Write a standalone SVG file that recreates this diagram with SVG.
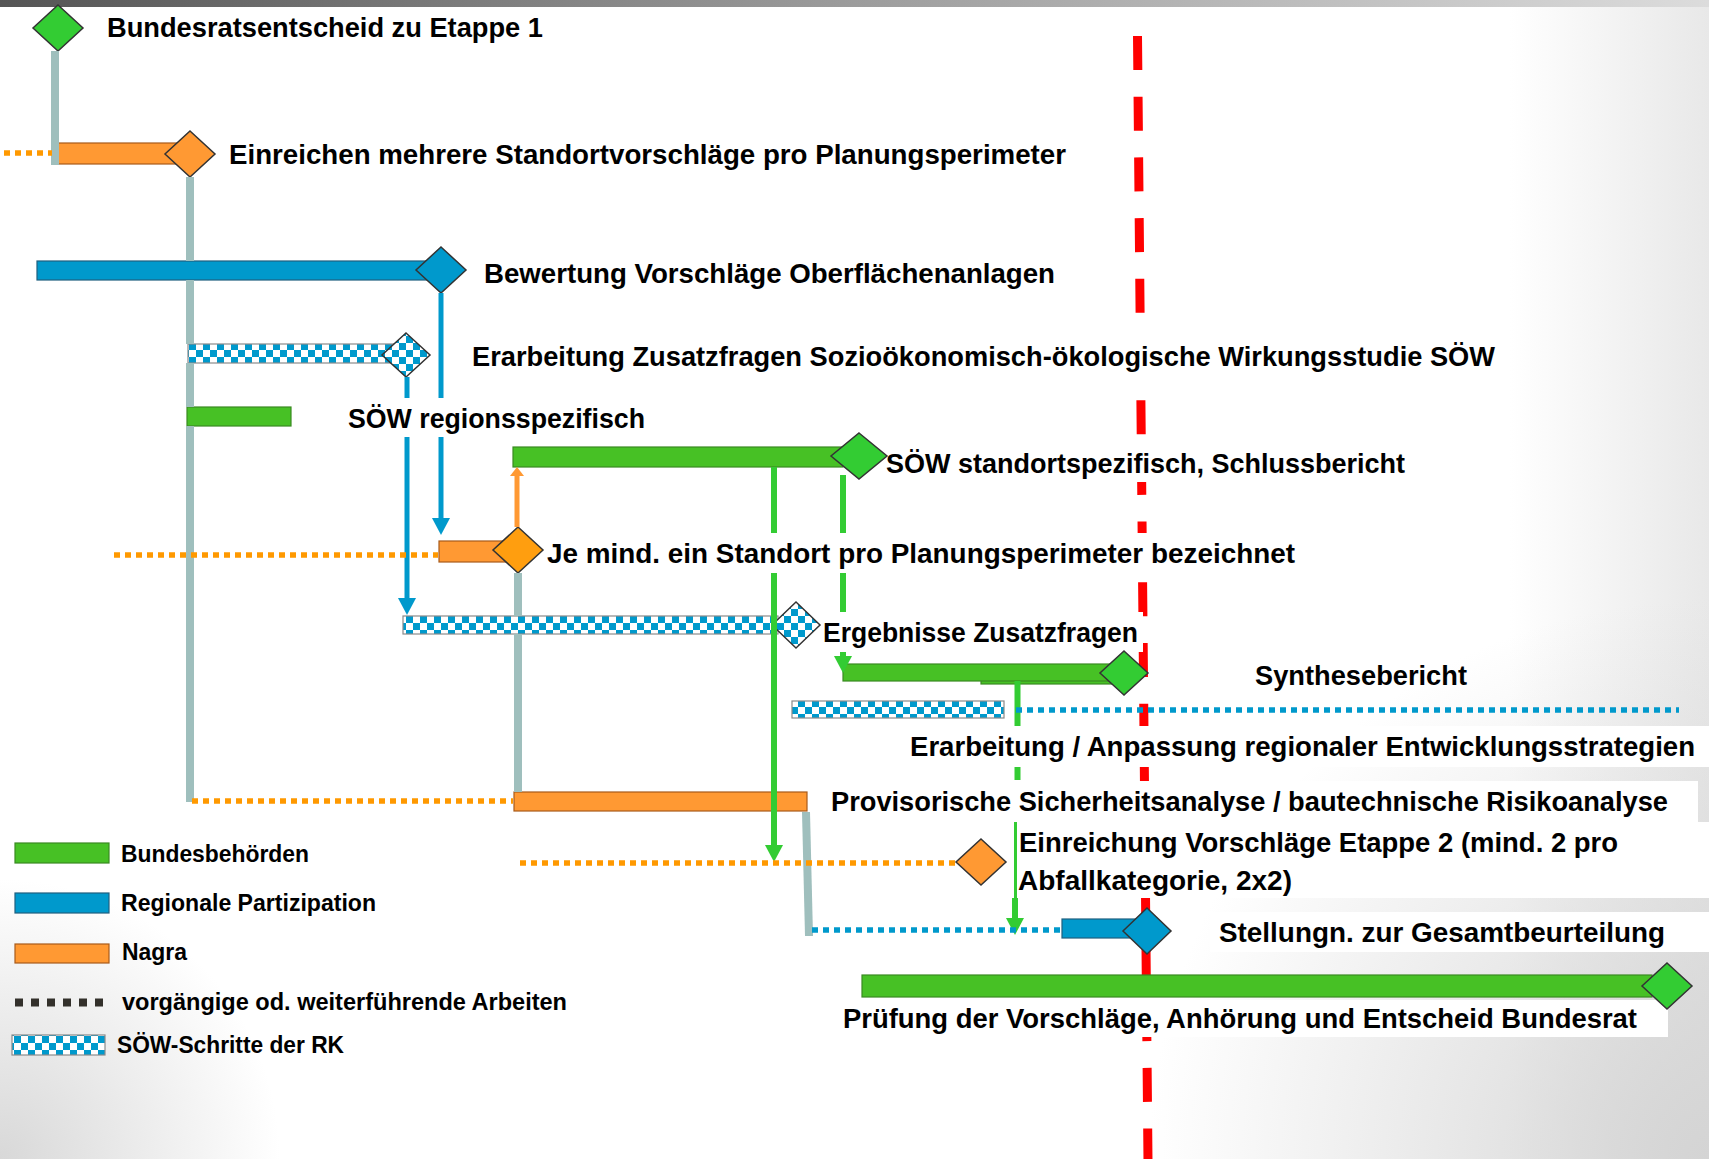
<svg xmlns="http://www.w3.org/2000/svg" width="1709" height="1159" viewBox="0 0 1709 1159">
<style>
text{font-family:"Liberation Sans",Arial,sans-serif;font-weight:bold;fill:#000}
.t{font-size:27px}
.lg{font-size:23px}
.lb{fill:#fff}
.bg{fill:#47c125;stroke:#3a8a22;stroke-width:1.2}
.bb{fill:#0099cc;stroke:#1f5f7f;stroke-width:1.2}
.bo{fill:#ff9933;stroke:#a85a1a;stroke-width:1.2}
.bc{fill:url(#chk);stroke:#8a8a8a;stroke-width:1.2}
.dg{fill:#33cc33;stroke:#333;stroke-width:1.5}
.db{fill:#0099cc;stroke:#333;stroke-width:1.5}
.do{fill:#ff9933;stroke:#333;stroke-width:1.5}
.dc{fill:url(#chk);stroke:#333;stroke-width:1.5}
.gl{stroke:#9fbfbd;stroke-width:8;fill:none}
.bl{stroke:#0099cc;stroke-width:5;fill:none}
.grl{stroke:#33cc33;stroke-width:6;fill:none}
.ol{stroke:#ff9933;stroke-width:5;fill:none}
.od{stroke:#ff9900;stroke-width:5.5;stroke-dasharray:6 5;fill:none}
.bd{stroke:#0099cc;stroke-width:5.5;stroke-dasharray:6 5;fill:none}
</style>
<defs>
<pattern id="chk" width="14" height="14" patternUnits="userSpaceOnUse">
<rect width="14" height="14" fill="#fff"/>
<rect width="7" height="7" fill="#0099cc"/>
<rect x="7" y="7" width="7" height="7" fill="#0099cc"/>
</pattern>
<linearGradient id="top" x1="0" y1="0" x2="1" y2="0">
<stop offset="0" stop-color="#555"/>
<stop offset="0.5" stop-color="#9c9c9c"/>
<stop offset="1" stop-color="#dcdcdc"/>
</linearGradient>
<linearGradient id="rf" gradientUnits="userSpaceOnUse" x1="1510" y1="0" x2="1709" y2="0">
<stop offset="0" stop-color="#e4e4e4" stop-opacity="0"/>
<stop offset="1" stop-color="#e4e4e4" stop-opacity="0.85"/>
</linearGradient>
<radialGradient id="brc" gradientUnits="userSpaceOnUse" cx="1709" cy="1159" r="560">
<stop offset="0" stop-color="#d4d4d4" stop-opacity="1"/>
<stop offset="1" stop-color="#d4d4d4" stop-opacity="0"/>
</radialGradient>
<radialGradient id="blc" gradientUnits="userSpaceOnUse" cx="0" cy="1159" r="280">
<stop offset="0" stop-color="#d8d8d8" stop-opacity="1"/>
<stop offset="1" stop-color="#d8d8d8" stop-opacity="0"/>
</radialGradient>
<marker id="aB" viewBox="0 0 17 18" refX="0" refY="9" markerWidth="17" markerHeight="18" markerUnits="userSpaceOnUse" orient="auto"><path d="M0,0 L17,9 L0,18 z" fill="#0099cc"/></marker>
<marker id="aG" viewBox="0 0 17 18" refX="0" refY="9" markerWidth="17" markerHeight="18" markerUnits="userSpaceOnUse" orient="auto"><path d="M0,0 L17,9 L0,18 z" fill="#33cc33"/></marker>
<marker id="aO" viewBox="0 0 9 14" refX="0" refY="7" markerWidth="9" markerHeight="14" markerUnits="userSpaceOnUse" orient="auto"><path d="M0,0 L9,7 L0,14 z" fill="#ff9933"/></marker>
</defs>

<g id="background">
<rect width="1709" height="1159" fill="#fff"/>
<rect width="1709" height="1159" fill="url(#rf)"/>
<rect width="1709" height="1159" fill="url(#brc)"/>
<rect width="1709" height="1159" fill="url(#blc)"/>
<rect width="1709" height="7" fill="url(#top)"/>
</g>

<g id="decision-line">
<line x1="1137.5" y1="36" x2="1148" y2="1162" stroke="#ff0000" stroke-width="9" stroke-dasharray="34 26.7"/>
</g>

<g id="legend">
<rect class="bg" x="15" y="843" width="94" height="20"/>
<text class="lg" x="121" y="862" textLength="188" lengthAdjust="spacingAndGlyphs">Bundesbehörden</text>
<rect class="bb" x="15" y="893" width="94" height="20"/>
<text class="lg" x="121" y="911" textLength="255" lengthAdjust="spacingAndGlyphs">Regionale Partizipation</text>
<rect class="bo" x="15" y="944" width="94" height="19"/>
<text class="lg" x="122" y="960" textLength="65" lengthAdjust="spacingAndGlyphs">Nagra</text>
<line x1="15" y1="1002.5" x2="103" y2="1002.5" stroke="#33302b" stroke-width="8" stroke-dasharray="8 8"/>
<text class="lg" x="122" y="1010" textLength="445" lengthAdjust="spacingAndGlyphs">vorgängige od. weiterführende Arbeiten</text>
<rect class="bc" x="12" y="1035" width="93" height="20"/>
<text class="lg" x="117" y="1053" textLength="227" lengthAdjust="spacingAndGlyphs">SÖW-Schritte der RK</text>
</g>

<g id="n-bundesratsentscheid-1">
<polygon class="dg" points="58,5 83,28 58,51 33,28"/>
<text class="t" x="107" y="37" textLength="436" lengthAdjust="spacingAndGlyphs">Bundesratsentscheid zu Etappe 1</text>
</g>

<g id="n-einreichen-standortvorschlaege">
<rect class="bo" x="57" y="143" width="125" height="21"/>
<polygon class="do" points="190,131 215,154 190,177 165,154"/>
<text class="t" x="229" y="164" textLength="837" lengthAdjust="spacingAndGlyphs">Einreichen mehrere Standortvorschläge pro Planungsperimeter</text>
</g>

<g id="n-bewertung-oberflaechenanlagen">
<rect class="bb" x="37" y="261" width="393" height="19"/>
<polygon class="db" points="441,247 466,270 441,293 416,270"/>
<text class="t" x="484" y="283" textLength="571" lengthAdjust="spacingAndGlyphs">Bewertung Vorschläge Oberflächenanlagen</text>
</g>

<g id="n-erarbeitung-zusatzfragen">
<rect class="bc" x="188" y="344" width="206" height="19"/>
<polygon class="dc" points="406,333 430,355 406,377 382,355"/>
<rect class="lb" x="466" y="336" width="1032" height="41"/>
<text class="t" x="472" y="366" textLength="1023" lengthAdjust="spacingAndGlyphs">Erarbeitung Zusatzfragen Sozioökonomisch-ökologische Wirkungsstudie SÖW</text>
</g>

<g id="n-soew-regionsspezifisch">
<rect class="bg" x="187" y="407" width="104" height="19"/>
<rect class="lb" x="340" y="398" width="312" height="39"/>
<text class="t" x="348" y="428" textLength="297" lengthAdjust="spacingAndGlyphs">SÖW regionsspezifisch</text>
</g>

<g id="n-soew-standortspezifisch">
<rect class="bg" x="513" y="447" width="330" height="20"/>
<rect class="lb" x="882" y="440" width="530" height="42"/>
<polygon class="dg" points="859,433 887,456 859,479 831,456"/>
<text class="t" x="886" y="473" textLength="519" lengthAdjust="spacingAndGlyphs">SÖW standortspezifisch, Schlussbericht</text>
</g>

<g id="n-standort-bezeichnet">
<rect class="bo" x="439" y="541" width="72" height="21"/>
<polygon class="do" points="518,527 543,550 518,573 493,550" style="fill:#ff9e0f"/>
<rect class="lb" x="545" y="533" width="755" height="40"/>
<text class="t" x="547" y="563" textLength="748" lengthAdjust="spacingAndGlyphs">Je mind. ein Standort pro Planungsperimeter bezeichnet</text>
</g>

<g id="n-ergebnisse-zusatzfragen">
<rect class="bc" x="403" y="616" width="375" height="18"/>
<polygon class="dc" points="796,602 820,625 796,648 772,625"/>
<rect class="lb" x="821" y="612" width="322" height="40"/>
<text class="t" x="823" y="642" textLength="315" lengthAdjust="spacingAndGlyphs">Ergebnisse Zusatzfragen</text>
</g>

<g id="n-synthesebericht">
<rect class="bg" x="981" y="670" width="134" height="14"/>
<rect class="bg" x="843" y="664" width="267" height="17"/>
<polygon class="dg" points="1124,651 1148,673 1124,695 1100,673"/>
<text class="t" x="1255" y="685" textLength="212" lengthAdjust="spacingAndGlyphs">Synthesebericht</text>
</g>

<g id="n-entwicklungsstrategien">
<rect class="bc" x="792" y="701" width="212" height="17"/>
<rect class="lb" x="905" y="726" width="804" height="41"/>
<text class="t" x="910" y="756" textLength="785" lengthAdjust="spacingAndGlyphs">Erarbeitung / Anpassung regionaler Entwicklungsstrategien</text>
</g>

<g id="n-sicherheitsanalyse">
<rect class="bo" x="514" y="792" width="293" height="19"/>
<rect class="lb" x="826" y="781" width="872" height="41"/>
<text class="t" x="831" y="811" textLength="837" lengthAdjust="spacingAndGlyphs">Provisorische Sicherheitsanalyse / bautechnische Risikoanalyse</text>
</g>

<g id="n-einreichung-etappe2">
<polygon class="do" points="981,839 1006,862 981,885 956,862"/>
<rect class="lb" x="1018" y="822" width="691" height="76"/>
<text class="t" x="1019" y="852" textLength="599" lengthAdjust="spacingAndGlyphs">Einreichung Vorschläge Etappe 2 (mind. 2 pro</text>
<text class="t" x="1018" y="890" textLength="274" lengthAdjust="spacingAndGlyphs">Abfallkategorie, 2x2)</text>
</g>

<g id="n-stellungnahme">
<rect class="bb" x="1062" y="919" width="75" height="19"/>
<polygon class="db" points="1147,908 1171,931 1147,954 1123,931"/>
<rect class="lb" x="1210" y="912" width="499" height="40"/>
<text class="t" x="1219" y="942" textLength="446" lengthAdjust="spacingAndGlyphs">Stellungn. zur Gesamtbeurteilung</text>
</g>

<g id="n-pruefung-bundesrat">
<rect class="bg" x="862" y="975" width="790" height="22"/>
<rect class="lb" x="840" y="1000" width="828" height="37"/>
<polygon class="dg" points="1667,963 1692,986 1667,1009 1642,986"/>
<text class="t" x="843" y="1028" textLength="794" lengthAdjust="spacingAndGlyphs">Prüfung der Vorschläge, Anhörung und Entscheid Bundesrat</text>
</g>

<g id="connectors">
<path class="gl" d="M55,51 V165"/>
<path class="gl" d="M190,177 V261 M190,280 V344 M190,363 V407 M190,426 V802"/>
<path class="gl" d="M518,573 V616 M518,634 V792"/>
<path class="gl" d="M806,812 L809,936"/>
<path class="bl" d="M441,293 V398"/>
<line class="bl" x1="441" y1="437" x2="441" y2="518" marker-end="url(#aB)"/>
<path class="bl" d="M407,377 V398"/>
<line class="bl" x1="407" y1="437" x2="407" y2="598" marker-end="url(#aB)"/>
<path class="grl" d="M774,467 V533"/>
<line class="grl" x1="774" y1="573" x2="774" y2="845" marker-end="url(#aG)"/>
<path class="grl" d="M843,475 V533 M843,573 V612"/>
<line class="grl" x1="843" y1="652" x2="843" y2="656" marker-end="url(#aG)"/>
<path class="grl" d="M1017.5,681 V726 M1017.5,767 V780"/>
<path d="M1015.5,822 V899" stroke="#33cc33" stroke-width="3" fill="none"/>
<line class="grl" x1="1015" y1="898" x2="1015" y2="918" marker-end="url(#aG)"/>
<line class="ol" x1="517" y1="527" x2="517" y2="476" marker-end="url(#aO)"/>
<path class="od" d="M4,153 H52"/>
<path class="od" d="M114,555 H438"/>
<path class="od" d="M192,801 H513"/>
<path class="od" d="M520,863 H957"/>
<path class="bd" d="M1016,710 H1679"/>
<path class="bd" d="M812,930 H1062"/>
</g>
</svg>
